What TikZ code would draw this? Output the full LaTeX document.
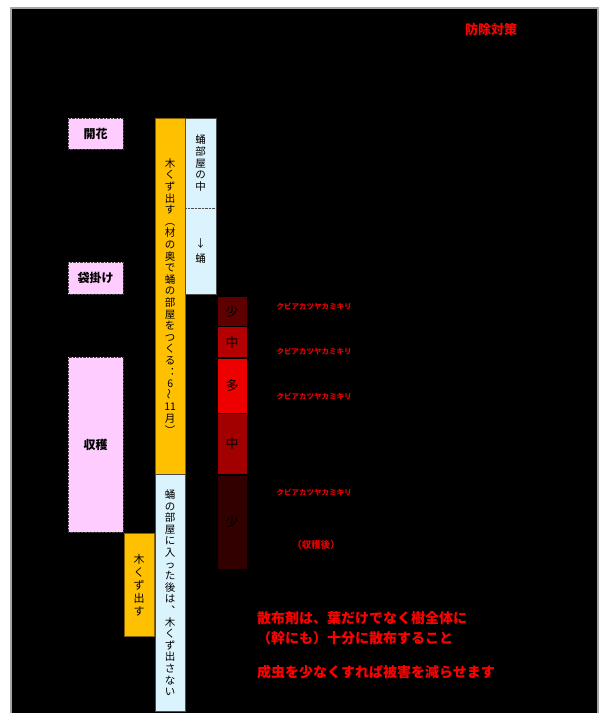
\documentclass[tikz,border=0pt]{standalone}
\usepackage{fontspec}
\setmainfont{Noto Sans CJK JP}
\usepackage{graphicx}
\usetikzlibrary{positioning}
\definecolor{hanapink}{HTML}{FFCCFF}
\definecolor{kikuzu}{HTML}{FFC000}
\definecolor{sanagi}{HTML}{DAF3FC}
\definecolor{shoA}{HTML}{5E0000}
\definecolor{chuA}{HTML}{B40000}
\definecolor{ta}{HTML}{EE0000}
\definecolor{chuB}{HTML}{A20000}
\definecolor{shoB}{HTML}{330000}
\newcommand{\tatenami}{\rotatebox{90}{～}}

\begin{document}
\begin{tikzpicture}[x=1pt,y=-1pt,
  kikan/.style={draw=gray!50!black, densely dotted, fill=hanapink, text=black, minimum width=55pt, inner sep=0pt, anchor=north west, font=\bfseries\fontsize{12}{14}\selectfont},
  tate/.style={inner sep=0pt, anchor=north west, align=center, text=black, font=\fontsize{10.5}{11.6}\selectfont},
  kikuzubox/.style={tate, draw=kikuzu!50!black, fill=kikuzu, minimum width=30pt},
  sanagibox/.style={tate, fill=sanagi, minimum width=31pt},
  ryo/.style={draw=black, thin, minimum width=30pt, inner sep=0pt, text=black, font=\fontsize{13}{15}\selectfont},
  kabi/.style={text=red!90!black, inner sep=0pt, font=\bfseries\fontsize{7.5}{9}\selectfont},
  chui/.style={text=red, inner sep=0pt, anchor=base west, font=\bfseries\fontsize{14}{16}\selectfont}]
\useasboundingbox (0,0) rectangle (604,713);
\fill[white] (0,0) rectangle (604,713);
\fill[black] (11,8) rectangle (598,713);
\draw[gray!70, line width=1.5pt] (11,713) -- (11,8) -- (598,8) -- (598,713);
\node[text=red, font=\bfseries\fontsize{13}{15}\selectfont] (taisaku) at (491,30) {防除対策};
% 作業
\node[kikan, minimum height=31pt] (kaika) at (68,118) {開花};
\node[kikan, minimum height=32pt] (fukuro) at (68,262) {袋掛け};
\node[kikan, minimum height=175pt] (shukaku) at (68,357) {収穫};
% 幼虫・蛹
\node[kikuzubox, minimum height=356pt] (kikuzu1) at (155,118)
  {木\\く\\ず\\出\\す\\︵\\材\\の\\奥\\で\\蛹\\の\\部\\屋\\を\\つ\\く\\る\\︓\\6\\\tatenami\\11\\月\\︶};
\node[sanagibox, minimum height=90pt] (heya) at (185,118) {蛹\\部\\屋\\の\\中};
\node[sanagibox, minimum height=86pt] (sanagi) at (185,208) {↓\\[4pt]蛹};
\draw[gray!60!black] (heya.north west) rectangle (sanagi.south east);
\draw[gray!60!black, densely dotted] (heya.south west) -- (heya.south east);
\node[sanagibox, draw=gray!60!black, minimum width=30pt, minimum height=237pt] (dasanai) at (155,474)
  {蛹\\の\\部\\屋\\に\\入\\っ\\た\\後\\は\\︑\\木\\く\\ず\\出\\さ\\な\\い};
\node[kikuzubox, minimum height=103pt, font=\fontsize{11}{13}\selectfont] (kikuzu2) at (124,533) {木\\く\\ず\\出\\す};
% 成虫の発生量
\node[ryo, fill=shoA, minimum height=30pt, anchor=north west] (ryo1) at (217,296) {少};
\node[ryo, fill=chuA, minimum height=31pt, below=0pt of ryo1] (ryo2) {中};
\node[ryo, fill=ta, minimum height=55pt, below=0pt of ryo2] (ryo3) {多};
\node[ryo, fill=chuB, minimum height=61pt, below=0pt of ryo3] (ryo4) {中};
\node[ryo, fill=shoB, minimum height=94pt, below=0pt of ryo4] (ryo5) {少};
\node[kabi] (kabi1) at (314,307) {クビアカツヤカミキリ};
\node[kabi] (kabi2) at (314,352) {クビアカツヤカミキリ};
\node[kabi] (kabi3) at (314,397) {クビアカツヤカミキリ};
\node[kabi] (kabi4) at (314,493) {クビアカツヤカミキリ};
\node[kabi, font=\bfseries\fontsize{9.5}{11}\selectfont] (shukakugo) at (316,545) {（収穫後）};
% 注意書き
\node[chui] (chui1) at (257,623) {散布剤は、葉だけでなく樹全体に};
\node[chui] (chui2) at (257,643) {（幹にも）十分に散布すること};
\node[chui] (chui3) at (257,677) {成虫を少なくすれば被害を減らせます};
\end{tikzpicture}
\end{document}
